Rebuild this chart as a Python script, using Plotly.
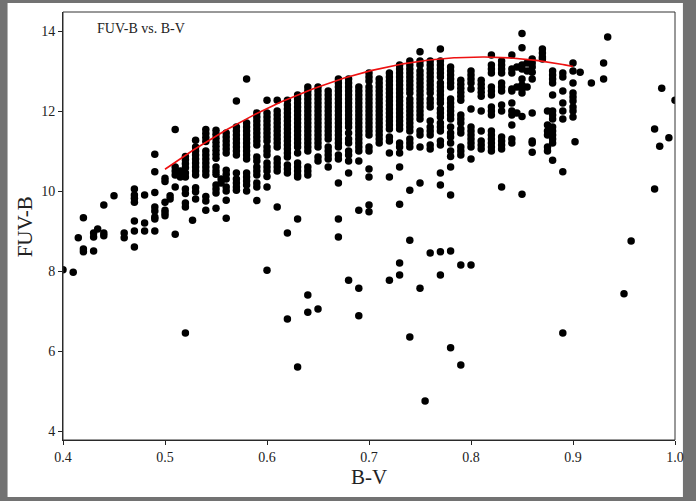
import numpy as np
import plotly.graph_objects as go

# B-V column positions and the FUV-B values
bv_columns = [
    0.40, 0.41, 0.415, 0.42, 0.43, 0.434, 0.44, 0.45, 0.46, 0.47, 0.48, 0.49, 0.50, 0.505,
    0.51, 0.515, 0.52, 0.527, 0.53, 0.54, 0.55, 0.555, 0.56, 0.57, 0.58, 0.59, 0.60,
    0.61, 0.62, 0.63, 0.64, 0.65, 0.66, 0.67, 0.68, 0.69, 0.70, 0.71, 0.72, 0.73,
    0.74, 0.75, 0.755, 0.76, 0.77, 0.78, 0.79, 0.80, 0.81, 0.82, 0.83, 0.84, 0.845,
    0.85, 0.855, 0.86, 0.87, 0.875, 0.88, 0.89, 0.90, 0.902, 0.907, 0.918, 0.93,
    0.934, 0.95, 0.957, 0.98, 0.985, 0.987, 0.994, 1.0,
]
fuv_columns = [
    [8.03],
    [7.97],
    [8.83],
    [9.33, 8.55, 8.48],
    [8.95, 8.85, 8.5],
    [9.05],
    [9.65, 8.95, 8.88],
    [9.88],
    [8.95, 8.83],
    [10.05, 9.9, 9.82, 9.72, 9.25, 9.0, 8.6],
    [9.9, 9.2, 9.0],
    [10.92, 10.48, 9.96, 9.6, 9.5, 9.35, 9.3, 9.0],
    [10.32, 10.24, 9.72, 9.52, 9.45, 9.38],
    [9.88, 9.8],
    [11.54, 10.6, 10.5, 10.4, 10.1, 8.92],
    [10.5, 10.35],
    [10.86, 10.78, 10.68, 10.58, 10.45, 10.35, 10.05, 9.94, 9.7, 9.6, 6.45],
    [9.27],
    [11.27, 11.1, 11.0, 10.9, 10.8, 10.7, 10.6, 10.5, 10.4, 10.08, 9.98, 9.8],
    [11.54, 11.44, 11.34, 11.24, 11.0, 10.9, 10.8, 10.7, 10.6, 10.5, 10.4, 9.86, 9.75, 9.52],
    [11.52, 11.42, 11.32, 11.22, 11.12, 11.02, 10.92, 10.82, 10.6, 10.5, 10.42, 10.15, 10.05, 9.95, 9.57],
    [10.3, 10.2],
    [11.45, 11.35, 11.25, 11.15, 11.05, 10.95, 10.52, 10.42, 10.3, 10.1, 10.0, 9.77, 9.32],
    [12.25, 11.6, 11.5, 11.4, 11.3, 11.2, 11.1, 11.0, 10.9, 10.45, 10.3, 10.2, 10.1, 10.02],
    [12.8, 11.7, 11.6, 11.5, 11.4, 11.3, 11.2, 11.1, 11.0, 10.9, 10.8, 10.45, 10.35, 10.25, 10.15, 10.0],
    [11.95, 11.85, 11.75, 11.65, 11.55, 11.45, 11.35, 11.25, 11.15, 10.85, 10.75, 10.6, 10.5, 10.4, 10.2, 10.1, 9.76],
    [12.27, 11.95, 11.85, 11.75, 11.65, 11.55, 11.45, 11.35, 11.25, 11.1, 11.0, 10.9, 10.7, 10.6, 10.5, 10.36, 10.1, 8.02],
    [12.27, 12.0, 11.9, 11.8, 11.7, 11.6, 11.5, 11.4, 11.3, 11.2, 11.1, 10.8, 10.7, 10.6, 10.5, 9.6],
    [12.27, 12.15, 12.05, 11.95, 11.85, 11.75, 11.65, 11.55, 11.45, 11.35, 11.25, 11.15, 11.05, 10.95, 10.85, 10.65, 10.55, 10.45, 8.95, 6.8],
    [12.4, 12.3, 12.2, 12.1, 12.0, 11.9, 11.8, 11.7, 11.6, 11.5, 11.4, 11.3, 11.2, 11.1, 10.95, 10.7, 10.6, 10.5, 10.4, 10.35, 9.3, 5.6],
    [12.6, 12.5, 12.4, 12.3, 12.2, 12.1, 12.0, 11.9, 11.8, 11.7, 11.6, 11.5, 11.4, 11.3, 11.2, 11.1, 11.0, 10.6, 10.5, 10.4, 7.4, 6.97],
    [12.6, 12.5, 12.4, 12.3, 12.2, 12.1, 12.0, 11.9, 11.8, 11.7, 11.6, 11.5, 11.4, 11.3, 11.2, 11.1, 10.85, 10.75, 7.05],
    [12.5, 12.4, 12.3, 12.2, 12.1, 12.0, 11.9, 11.8, 11.7, 11.6, 11.5, 11.4, 11.3, 11.1, 11.0, 10.9, 10.8, 10.6],
    [12.8, 12.7, 12.6, 12.5, 12.4, 12.3, 12.2, 12.1, 12.0, 11.9, 11.8, 11.7, 11.6, 11.5, 11.4, 11.3, 11.2, 11.1, 10.9, 10.8, 10.2, 9.3, 8.85],
    [12.8, 12.7, 12.6, 12.5, 12.4, 12.3, 12.2, 12.1, 12.0, 11.9, 11.8, 11.7, 11.6, 11.45, 11.3, 11.2, 11.0, 10.9, 10.75, 10.45, 7.77],
    [12.6, 12.5, 12.4, 12.3, 12.2, 12.1, 12.0, 11.9, 11.8, 11.7, 11.6, 11.5, 11.4, 11.3, 11.2, 11.1, 11.0, 10.75, 9.52, 7.57, 6.88],
    [12.95, 12.85, 12.75, 12.6, 12.5, 12.4, 12.3, 12.2, 12.1, 12.0, 11.9, 11.8, 11.7, 11.6, 11.5, 11.4, 11.1, 11.0, 10.55, 10.35, 9.65, 9.48],
    [12.8, 12.7, 12.6, 12.5, 12.4, 12.3, 12.2, 12.1, 12.0, 11.9, 11.8, 11.7, 11.6, 11.5, 11.4, 11.3, 11.2],
    [12.95, 12.85, 12.75, 12.65, 12.55, 12.45, 12.35, 12.25, 12.15, 12.05, 11.95, 11.85, 11.75, 11.65, 11.55, 11.35, 11.25, 10.95, 10.35, 7.77],
    [13.15, 13.05, 12.95, 12.85, 12.75, 12.65, 12.55, 12.45, 12.35, 12.25, 12.15, 12.05, 11.95, 11.85, 11.75, 11.65, 11.55, 11.2, 11.1, 10.95, 10.6, 9.67, 8.2, 7.9],
    [13.25, 13.15, 13.05, 12.95, 12.85, 12.75, 12.65, 12.55, 12.45, 12.3, 12.2, 12.1, 12.0, 11.9, 11.8, 11.7, 11.6, 11.5, 11.3, 11.2, 11.1, 10.02, 8.77, 6.35],
    [13.48, 13.25, 13.15, 13.0, 12.9, 12.8, 12.7, 12.6, 12.5, 12.4, 12.3, 12.2, 12.1, 12.0, 11.9, 11.8, 11.5, 11.4, 11.1, 10.2, 7.57],
    [4.75],
    [13.25, 13.15, 13.05, 12.95, 12.85, 12.75, 12.65, 12.55, 12.45, 12.3, 12.2, 12.1, 11.75, 11.6, 11.5, 11.4, 11.15, 11.05, 8.45],
    [13.55, 13.25, 13.15, 13.05, 12.95, 12.85, 12.7, 12.6, 12.5, 12.4, 12.3, 12.2, 12.05, 11.95, 11.85, 11.7, 11.6, 11.5, 11.25, 11.15, 10.45, 10.15, 8.48, 7.9],
    [13.1, 13.0, 12.9, 12.8, 12.7, 12.6, 12.3, 12.2, 12.1, 12.0, 11.9, 11.8, 11.6, 11.45, 11.35, 11.2, 11.0, 10.86, 10.6, 9.9, 8.5, 6.08],
    [12.77, 12.67, 12.57, 12.47, 12.37, 12.27, 11.9, 11.8, 11.7, 11.55, 11.45, 11.1, 11.0, 10.9, 8.15, 5.65],
    [13.0, 12.9, 12.8, 12.7, 12.55, 12.05, 11.6, 11.5, 11.4, 11.3, 11.2, 11.1, 10.8, 8.15],
    [12.77, 12.67, 12.57, 12.47, 12.37, 12.0, 11.5, 11.25, 11.15, 11.05],
    [13.4, 13.15, 13.05, 12.95, 12.6, 12.5, 12.4, 12.1, 12.0, 11.9, 11.5, 11.4, 11.3, 11.2, 11.1, 11.0],
    [13.25, 13.15, 13.05, 12.95, 12.7, 12.6, 12.5, 12.15, 12.0, 11.35, 11.25, 11.15, 11.05, 10.1],
    [13.4, 13.05, 12.95, 12.55, 12.5, 12.2, 12.0, 11.9, 11.65, 11.3, 11.2],
    [13.1, 12.6, 11.95],
    [13.94, 13.58, 13.15, 13.05, 12.8, 12.65, 12.55, 12.45, 11.86, 9.92],
    [13.2, 13.0, 12.6],
    [13.3, 13.2, 13.1, 12.97, 12.8, 11.95, 11.25, 11.2, 10.97],
    [13.55, 13.45, 13.35, 13.3],
    [12.0, 11.65, 11.5, 11.4, 11.1, 11.0],
    [13.0, 12.9, 12.8, 12.7, 12.4, 12.0, 11.9, 11.8, 11.6, 11.5, 11.4, 11.3, 11.2, 10.77],
    [12.95, 12.85, 12.5, 12.2, 12.0, 11.8, 10.48, 6.45],
    [13.2, 13.0, 12.7, 12.45, 12.35, 12.25, 12.1, 12.0, 11.85],
    [11.23],
    [12.97],
    [12.7],
    [13.2, 12.8],
    [13.85],
    [7.43],
    [8.75],
    [11.55, 10.05],
    [11.12],
    [12.57],
    [11.33],
    [12.27],
]

# quadratic fit drawn in red (coefficients, highest power first) and its B-V span
fit_coeffs = [-29.2, 47.304, -5.808]
fit_bv_span = [0.5, 0.9]

x_ticks = [0.4, 0.5, 0.6, 0.7, 0.8, 0.9, 1.0]
x_tick_labels = ["0.4", "0.5", "0.6", "0.7", "0.8", "0.9", "1.0"]
y_ticks = [4, 6, 8, 10, 12, 14]

bv = [c for c, vals in zip(bv_columns, fuv_columns) for _ in vals]
fuv = [v for vals in fuv_columns for v in vals]

fit_x = np.linspace(fit_bv_span[0], fit_bv_span[1], 200)
fit_y = np.polyval(fit_coeffs, fit_x)

SERIF = "Liberation Serif, Times New Roman, serif"

fig = go.Figure()
fig.add_trace(go.Scatter(
    x=bv, y=fuv, mode="markers",
    marker=dict(color="black", size=7.5, line=dict(width=0)),
    showlegend=False, hoverinfo="x+y",
))
fig.add_trace(go.Scatter(
    x=fit_x, y=fit_y, mode="lines",
    line=dict(color="#ee1111", width=1.6),
    showlegend=False,
))

W, H = 696, 501
ml, mr, mt, mb = 63, 15, 12, 61
pw, ph = W - ml - mr, H - mt - mb

def px_to_paper_x(px):
    return (px - ml) / pw

def px_to_paper_y(py):
    return (H - mb - py) / ph

fig.update_layout(
    width=W, height=H,
    margin=dict(l=ml, r=mr, t=mt, b=mb, pad=0),
    paper_bgcolor="#727272",
    plot_bgcolor="white",
    font=dict(family=SERIF, color="#222"),
    shapes=[
        dict(type="rect", xref="paper", yref="paper", layer="below",
             x0=px_to_paper_x(7), x1=px_to_paper_x(689),
             y0=px_to_paper_y(497), y1=px_to_paper_y(3),
             fillcolor="white", line=dict(width=0)),
        dict(type="rect", xref="paper", yref="paper", layer="above",
             x0=0, x1=1, y0=0, y1=1, line=dict(color="#333", width=1)),
    ],
    annotations=[
        dict(text="FUV-B vs. B-V", xref="paper", yref="paper",
             x=px_to_paper_x(95), y=px_to_paper_y(28), xanchor="left", yanchor="middle",
             showarrow=False, font=dict(size=14, family=SERIF, color="#222")),
        dict(text="B-V", xref="paper", yref="paper",
             x=px_to_paper_x(372), y=px_to_paper_y(477), xanchor="center", yanchor="middle",
             showarrow=False, font=dict(size=21, family=SERIF, color="#222")),
        dict(text="FUV-B", xref="paper", yref="paper", textangle=-90,
             x=px_to_paper_x(25), y=px_to_paper_y(227), xanchor="center", yanchor="middle",
             showarrow=False, font=dict(size=21, family=SERIF, color="#222")),
    ],
)
fig.update_xaxes(
    range=[0.4, 1.0], tickvals=x_ticks, ticktext=x_tick_labels,
    showgrid=False, zeroline=False, showline=True, linecolor="#222", linewidth=1,
    ticks="outside", ticklen=4, tickcolor="#222",
    tickfont=dict(size=14, family=SERIF, color="#222"),
)
fig.update_yaxes(
    range=[3.775, 14.475], tickvals=y_ticks,
    showgrid=False, zeroline=False, showline=True, linecolor="#222", linewidth=1,
    ticks="outside", ticklen=4, tickcolor="#222",
    tickfont=dict(size=14, family=SERIF, color="#222"),
)

fig.write_html(
    "out.html",
    config={"displayModeBar": False},
    post_script="document.body.style.margin='0';document.body.style.background='#727272';",
)
